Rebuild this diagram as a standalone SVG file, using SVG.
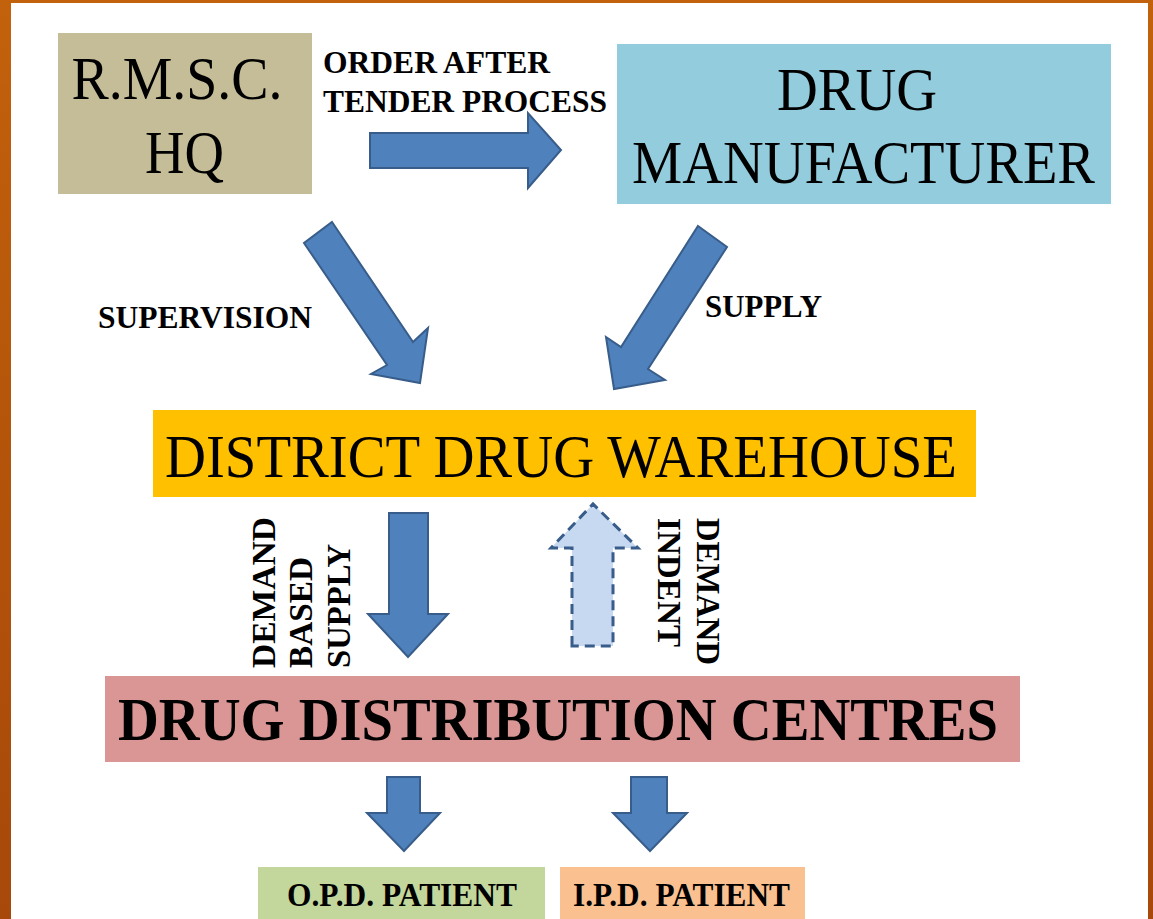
<svg xmlns="http://www.w3.org/2000/svg" width="1153" height="919" viewBox="0 0 1153 919">
  <defs>
    <linearGradient id="frame" x1="0" y1="0" x2="0" y2="1">
      <stop offset="0" stop-color="#C2620C"/>
      <stop offset="0.5" stop-color="#B4540A"/>
      <stop offset="1" stop-color="#A8480A"/>
    </linearGradient>
    <style>
      .box-text { font-family: "Liberation Serif", "Times New Roman", serif; fill: #000; }
      .big { font-size: 62px; }
      .bold { font-weight: bold; }
      .label { font-family: "Liberation Serif", "Times New Roman", serif; font-weight: bold; font-size: 31px; fill: #000; }
      .vlabel { font-size: 33px; }
      .arrow { fill: #4F81BD; stroke: #385D8A; stroke-width: 2; stroke-linejoin: miter; }
      .arrow-dashed { fill: #C6D9F1; stroke: #385D8A; stroke-width: 3; stroke-dasharray: 10 6; }
    </style>
  </defs>

  <!-- slide frame and white canvas -->
  <rect x="0" y="0" width="1153" height="919" fill="url(#frame)"/>
  <rect x="11" y="3" width="1137" height="916" fill="#FFFFFF"/>

  <!-- nodes -->
  <g id="rmsc-hq">
    <rect x="58" y="33" width="254" height="161" fill="#C4BD97"/>
    <text class="box-text big" x="177" y="99" text-anchor="middle" textLength="211" lengthAdjust="spacingAndGlyphs">R.M.S.C.</text>
    <text class="box-text big" x="184.5" y="173" text-anchor="middle" textLength="79" lengthAdjust="spacingAndGlyphs">HQ</text>
  </g>

  <g id="drug-manufacturer">
    <rect x="617" y="44" width="494" height="160" fill="#93CDDD"/>
    <text class="box-text big" x="857" y="110" text-anchor="middle" textLength="160" lengthAdjust="spacingAndGlyphs">DRUG</text>
    <text class="box-text big" x="863.5" y="183" text-anchor="middle" textLength="463" lengthAdjust="spacingAndGlyphs">MANUFACTURER</text>
  </g>

  <g id="district-drug-warehouse">
    <rect x="153" y="410" width="823" height="87" fill="#FFC000"/>
    <text class="box-text big" x="561" y="477" text-anchor="middle" textLength="792" lengthAdjust="spacingAndGlyphs">DISTRICT DRUG WAREHOUSE</text>
  </g>

  <g id="drug-distribution-centres">
    <rect x="105" y="676" width="915" height="86" fill="#D99694"/>
    <text class="box-text big bold" x="558" y="740" text-anchor="middle" textLength="880" lengthAdjust="spacingAndGlyphs">DRUG DISTRIBUTION CENTRES</text>
  </g>

  <g id="opd-patient">
    <rect x="258" y="867" width="287" height="52" fill="#C3D69B"/>
    <text class="box-text bold" font-size="34" x="402" y="906" text-anchor="middle" textLength="230" lengthAdjust="spacingAndGlyphs">O.P.D. PATIENT</text>
  </g>

  <g id="ipd-patient">
    <rect x="560" y="867" width="245" height="52" fill="#FAC090"/>
    <text class="box-text bold" font-size="34" x="681.5" y="906" text-anchor="middle" textLength="217" lengthAdjust="spacingAndGlyphs">I.P.D. PATIENT</text>
  </g>

  <!-- connectors: block arrows with their labels -->
  <g id="connectors">
    <!-- order after tender process -->
    <polygon class="arrow" points="370,133 528,133 528,113 561,150 528,188 528,168 370,168"/>
    <text class="label" x="323" y="73" textLength="227" lengthAdjust="spacingAndGlyphs">ORDER AFTER</text>
    <text class="label" x="323" y="112" textLength="284" lengthAdjust="spacingAndGlyphs">TENDER PROCESS</text>

    <!-- supervision -->
    <polygon class="arrow" points="332,222 413,342 428,328 420,383 371,374 387,365 304,243"/>
    <text class="label" x="98" y="328" textLength="214" lengthAdjust="spacingAndGlyphs">SUPERVISION</text>

    <!-- supply -->
    <polygon class="arrow" points="698,226 727,247 648,369 665,380 614,389 606,337 621,347"/>
    <text class="label" x="705" y="317" textLength="117" lengthAdjust="spacingAndGlyphs">SUPPLY</text>

    <!-- demand based supply -->
    <polygon class="arrow" points="389,513 428,513 428,614 448,614 408,657 368,614 389,614"/>
    <g transform="translate(0,668) rotate(-90)">
      <text class="label vlabel" x="0" y="275" textLength="151" lengthAdjust="spacingAndGlyphs">DEMAND</text>
      <text class="label vlabel" x="0" y="312" textLength="111" lengthAdjust="spacingAndGlyphs">BASED</text>
      <text class="label vlabel" x="0" y="350" textLength="124" lengthAdjust="spacingAndGlyphs">SUPPLY</text>
    </g>

    <!-- demand indent -->
    <polygon class="arrow-dashed" points="572,646 572,548 551,548 593,504 638,548 613,548 613,646"/>
    <g transform="translate(0,518) rotate(90)">
      <text class="label vlabel" x="0" y="-697" textLength="147" lengthAdjust="spacingAndGlyphs">DEMAND</text>
      <text class="label vlabel" x="0" y="-658" textLength="129" lengthAdjust="spacingAndGlyphs">INDENT</text>
    </g>

    <!-- to patients -->
    <polygon class="arrow" points="387,777 420,777 420,813 440,813 404,851 367,813 387,813"/>
    <polygon class="arrow" points="631,777 667,777 667,813 687,813 650,851 613,813 631,813"/>
  </g>
</svg>
